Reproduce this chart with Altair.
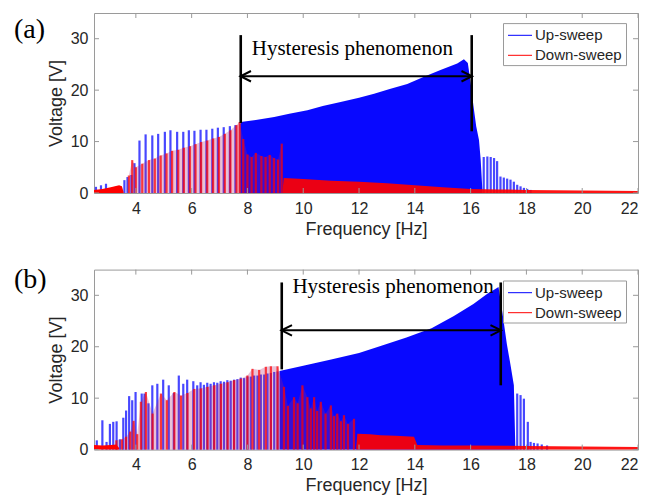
import altair as alt
import pandas as pd

# ---------------- shared values ----------------
X_TICKS = [4, 6, 8, 10, 12, 14, 16, 18, 20, 22]
Y_TICKS = [0, 10, 20, 30]
SWEEPS = ["Up-sweep", "Down-sweep"]
COLORS = ["#0000ff", "#ff0000"]
PANEL_LABELS = ["(a)", "(b)"]
ANNOT_TEXT = ["Hysteresis phenomenon"]

# ---------------- panel (a) ----------------
A_UP_SPIKE_F = [2.57, 2.75, 2.93, 3.15, 3.59, 3.70, 3.84, 3.95, 4.13, 4.35, 4.59, 4.80, 5.04,
                5.24, 5.48, 5.70, 5.90, 6.10, 6.32, 6.53, 6.74, 6.94, 7.15, 7.37, 7.57, 7.75,
                16.47, 16.60, 16.72, 16.84, 16.95, 17.07, 17.19, 17.31, 17.43, 17.55, 17.67,
                17.79, 17.91, 18.03, 18.15]
A_UP_SPIKE_V = [1.2, 1.5, 1.8, 0.8, 2.5, 3.1, 3.5, 5.8, 10.2, 11.4, 11.2, 11.5, 11.9,
                12.2, 11.9, 11.9, 12.2, 12.1, 12.3, 12.3, 12.5, 12.7, 12.8, 13.0, 13.2, 13.5,
                7.0, 7.1, 7.0, 6.8, 6.2, 3.2, 3.0, 2.8, 2.6, 2.2, 1.6,
                1.3, 1.0, 0.8, 0.6]
A_UP_ENV_F = [7.76, 8.3, 8.96, 9.5, 10.15, 10.7, 11.34, 12.0, 12.54, 13.1, 13.73, 14.33,
              14.92, 15.52, 15.76, 15.9, 16.0, 16.1, 16.2, 16.3, 16.36, 16.42]
A_UP_ENV_V = [13.8, 14.2, 14.8, 15.4, 16.1, 16.9, 17.7, 18.5, 19.3, 20.2, 21.2, 22.6,
              23.9, 25.2, 26.0, 25.3, 21.5, 17.0, 13.0, 10.3, 6.5, 0.8]
A_DOWN_SPIKE_F = [3.75, 3.87, 4.00, 4.23, 4.47, 4.68, 4.89, 5.10, 5.30, 5.52, 5.72, 5.94,
                  6.14, 6.34, 6.56, 6.77, 6.98, 7.19, 7.39, 7.61, 7.72, 7.85, 8.00, 8.15,
                  8.30, 8.50, 8.65, 8.80, 8.95, 9.10, 9.23]
A_DOWN_SPIKE_V = [3.4, 6.4, 5.0, 5.7, 6.4, 6.7, 7.3, 7.7, 8.2, 8.4, 8.8, 9.1,
                  9.5, 9.9, 10.2, 10.6, 10.9, 11.5, 12.2, 13.2, 13.8, 10.5, 7.5, 7.0,
                  7.8, 7.2, 7.0, 7.4, 6.8, 6.5, 9.6]
A_DOWN_LOW_F = [2.5, 2.8, 3.1, 3.4, 3.5, 3.56]
A_DOWN_LOW_V = [0.6, 0.8, 1.1, 1.5, 1.3, 0.2]
A_DOWN_ENV_F = [9.26, 9.30, 10, 11, 12, 13, 14, 15, 16, 17, 18, 20, 22]
A_DOWN_ENV_V = [0.5, 2.9, 2.7, 2.4, 2.2, 1.9, 1.5, 1.1, 0.8, 0.7, 0.6, 0.5, 0.4]
A_MARK_F = [7.76, 16.04]
A_MARK_LO = [13.6, 12.0]
A_MARK_HI = [30.7, 30.7]
A_ARROW_V = [22.7]
A_TEXT_F = [11.76]
A_TEXT_V = [26.8]

# ---------------- panel (b) ----------------
B_UP_SPIKE_F = [2.60, 2.80, 2.95, 3.07, 3.19, 3.31, 3.43, 3.55, 3.65, 3.76, 3.87, 3.99,
                4.21, 4.31, 4.45, 4.59, 4.77, 4.98, 5.18, 5.36, 5.54, 5.70, 5.84, 6.06,
                6.20, 6.32, 6.44, 6.56, 6.68, 6.80, 6.92, 7.04, 7.16, 7.28, 7.40, 7.52,
                7.64, 7.76, 7.88, 8.00, 8.12, 8.24, 8.36, 8.48, 8.60, 8.72, 8.84, 8.96,
                9.08, 17.67, 17.79, 17.91, 18.05, 18.15, 18.27, 18.40, 18.55, 18.74]
B_UP_SPIKE_V = [1.8, 5.7, 1.5, 5.0, 5.4, 5.5, 2.0, 6.2, 7.6, 10.4, 9.6, 11.2,
                10.9, 10.9, 9.0, 12.5, 12.8, 13.6, 12.5, 11.0, 14.4, 12.8, 13.6, 13.3,
                12.5, 13.1, 12.6, 13.0, 12.8, 13.1, 13.0, 13.3, 13.2, 13.5, 13.4, 13.6,
                13.7, 14.0, 13.9, 14.2, 14.2, 14.4, 14.4, 14.6, 14.6, 14.8, 14.9, 15.1,
                15.2, 10.9, 10.6, 9.9, 5.4, 1.5, 1.3, 1.2, 1.0, 0.8]
B_UP_ENV_F = [9.15, 10.0, 11.0, 12.0, 12.8, 13.7, 14.6, 15.4, 16.1, 16.6, 16.9, 17.0,
              17.13, 17.3, 17.42, 17.55, 17.6]
B_UP_ENV_V = [15.3, 16.3, 17.5, 18.8, 20.2, 21.8, 23.6, 26.0, 28.3, 30.3, 31.3, 31.6,
              27.0, 20.5, 16.8, 12.5, 1.0]
B_DOWN_SPIKE_F = [3.30, 3.50, 3.65, 3.80, 3.92, 4.05, 4.18, 4.36, 4.60, 4.90, 5.11, 5.38,
                  5.62, 5.85, 6.09, 6.33, 6.57, 6.81, 7.05, 7.29, 7.52, 7.76, 8.00, 8.18,
                  8.42, 8.66, 8.84, 9.08, 9.31, 9.45, 9.67, 9.80, 9.97, 10.15, 10.27, 10.39,
                  10.50, 10.63, 10.80, 10.99, 11.10, 11.22, 11.35, 11.46, 11.60, 11.82]
B_DOWN_SPIKE_V = [1.8, 2.0, 2.5, 3.5, 5.6, 3.0, 9.3, 11.2, 7.0, 10.9, 9.6, 11.2,
                  10.5, 11.0, 11.8, 11.9, 12.2, 12.5, 12.8, 13.1, 13.5, 13.8, 14.4, 15.7,
                  15.5, 16.1, 16.2, 16.2, 12.2, 8.5, 10.2, 9.0, 12.5, 10.2, 8.0, 10.2,
                  7.5, 9.3, 7.0, 8.6, 6.5, 7.0, 5.5, 6.7, 5.0, 6.0]
B_DOWN_LOW_F = [2.5, 2.8, 3.1, 3.3, 3.4]
B_DOWN_LOW_V = [0.9, 0.8, 0.9, 1.0, 0.3]
B_DOWN_ENV_F = [11.90, 11.94, 12.4, 12.77, 13.3, 13.97, 14.09, 15, 16, 18, 20, 22]
B_DOWN_ENV_V = [0.5, 3.1, 3.0, 2.8, 2.7, 2.5, 0.9, 0.8, 0.8, 0.7, 0.6, 0.5]
B_MARK_F = [9.23, 17.08]
B_MARK_LO = [15.6, 12.5]
B_MARK_HI = [32.5, 32.5]
B_ARROW_V = [23.2]
B_TEXT_F = [13.22]
B_TEXT_V = [30.4]

# ---------------- styling ----------------
W, H = 544, 180
TXT = "#262626"
BOX = "#9a9a9a"
SANS = "Liberation Sans"
SERIF = "Liberation Serif"

XS = alt.Scale(domain=[2.5, 22], nice=False, zero=False)
YS = alt.Scale(domain=[0, 35], nice=False, zero=False)
XAXIS = alt.Axis(values=X_TICKS, ticks=False, domain=False, grid=False,
                 labelFont=SANS, labelFontSize=16, labelColor=TXT, labelPadding=7,
                 titleFont=SANS, titleFontSize=18, titleColor=TXT,
                 titleFontWeight="normal", titlePadding=4)
YAXIS = alt.Axis(values=Y_TICKS, ticks=False, domain=False, grid=False,
                 labelFont=SANS, labelFontSize=16, labelColor=TXT, labelPadding=6,
                 titleFont=SANS, titleFontSize=18, titleColor=TXT,
                 titleFontWeight="normal", titlePadding=5)


def X(field):
    return alt.X(field, type="quantitative", scale=XS, axis=XAXIS, title="Frequency [Hz]")


def Y(field):
    return alt.Y(field, type="quantitative", scale=YS, axis=YAXIS, title="Voltage [V]")


def df(f, v):
    return pd.DataFrame({"f": f, "v": v})


def panel(idx, up_sf, up_sv, up_ef, up_ev, dn_sf, dn_sv, dn_lf, dn_lv, dn_ef, dn_ev,
          mark_f, mark_lo, mark_hi, arrow_v, text_f, text_v, legend_y, label_y):
    blue, red = COLORS
    layers = []
    # up-sweep
    layers.append(alt.Chart(df(up_sf, up_sv)).mark_rule(color=blue, strokeWidth=2.2, opacity=0.72)
                  .encode(x=X("f"), y=Y("v"), y2=alt.datum(0)))
    layers.append(alt.Chart(df(up_ef, up_ev)).mark_area(color=blue, opacity=0.97)
                  .encode(x=X("f"), y=Y("v")))
    # down-sweep
    layers.append(alt.Chart(df(dn_sf, dn_sv)).mark_area(color="#b02070", opacity=0.28)
                  .encode(x=X("f"), y=Y("v")))
    layers.append(alt.Chart(df(dn_sf, dn_sv)).mark_rule(color=red, strokeWidth=2.2, opacity=0.72)
                  .encode(x=X("f"), y=Y("v"), y2=alt.datum(0)))
    layers.append(alt.Chart(df(dn_lf, dn_lv)).mark_area(color=red, opacity=1)
                  .encode(x=X("f"), y=Y("v")))
    layers.append(alt.Chart(df(dn_ef, dn_ev)).mark_area(color=red, opacity=0.92)
                  .encode(x=X("f"), y=Y("v")))
    # annotation
    marks = pd.DataFrame({"f": mark_f, "lo": mark_lo, "hi": mark_hi})
    layers.append(alt.Chart(marks).mark_rule(color="black", strokeWidth=2.6)
                  .encode(x=X("f"), y=Y("lo"), y2="hi"))
    arrow = pd.DataFrame({"x1": [mark_f[0]], "x2": [mark_f[1]], "v": arrow_v})
    layers.append(alt.Chart(arrow).mark_rule(color="black", strokeWidth=2)
                  .encode(x=X("x1"), x2="x2", y=Y("v")))
    heads = pd.DataFrame({"f": mark_f, "v": arrow_v * 2})
    layers.append(alt.Chart(heads.iloc[[0]]).mark_point(shape="M1,-1L-1,0L1,1", filled=False,
                  stroke="black", strokeWidth=2, size=110, opacity=1, xOffset=5)
                  .encode(x=X("f"), y=Y("v")))
    layers.append(alt.Chart(heads.iloc[[1]]).mark_point(shape="M-1,-1L1,0L-1,1", filled=False,
                  stroke="black", strokeWidth=2, size=110, opacity=1, xOffset=-5)
                  .encode(x=X("f"), y=Y("v")))
    tdf = pd.DataFrame({"f": text_f, "v": text_v, "t": ANNOT_TEXT})
    layers.append(alt.Chart(tdf).mark_text(font=SERIF, fontSize=21, color="black",
                  align="center", baseline="alphabetic")
                  .encode(x=X("f"), y=Y("v"), text="t:N"))
    # box ticks (inward, MATLAB style)
    xt = pd.DataFrame({"t": X_TICKS})
    yt = pd.DataFrame({"t": Y_TICKS})
    layers.append(alt.Chart(xt).mark_rule(color=BOX, strokeWidth=1)
                  .encode(x=X("t"), y=alt.value(0), y2=alt.value(5)))
    layers.append(alt.Chart(xt).mark_rule(color=BOX, strokeWidth=1)
                  .encode(x=X("t"), y=alt.value(H - 5), y2=alt.value(H)))
    layers.append(alt.Chart(yt).mark_rule(color=BOX, strokeWidth=1)
                  .encode(y=Y("t"), x=alt.value(0), x2=alt.value(5)))
    layers.append(alt.Chart(yt).mark_rule(color=BOX, strokeWidth=1)
                  .encode(y=Y("t"), x=alt.value(W - 5), x2=alt.value(W)))
    # legend (drawn inside the axes, top right)
    LX, LW, LH = 409.5, 123, 42
    layers.append(alt.Chart(pd.DataFrame({"sweep": [SWEEPS[0]]})).mark_rect(
                  fill="white", stroke=BOX, strokeWidth=1)
                  .encode(x=alt.value(LX), x2=alt.value(LX + LW),
                          y=alt.value(legend_y), y2=alt.value(legend_y + LH)))
    sw = pd.DataFrame({"sweep": SWEEPS})
    for i, name in enumerate(SWEEPS):
        row = sw[sw["sweep"] == name]
        yy = legend_y + 11.7 + 20 * i
        layers.append(alt.Chart(row).mark_rule(color=COLORS[i], strokeWidth=1)
                      .encode(x=alt.value(LX + 4.5), x2=alt.value(LX + 28.5), y=alt.value(yy)))
        layers.append(alt.Chart(row).mark_text(font=SANS, fontSize=15, color=TXT,
                      align="left", baseline="middle")
                      .encode(x=alt.value(LX + 31.5), y=alt.value(yy), text="sweep:N"))
    # panel label
    layers.append(alt.Chart(pd.DataFrame({"p": [PANEL_LABELS[idx]]})).mark_text(
                  font=SERIF, fontSize=28, color="black", align="left", baseline="middle")
                  .encode(x=alt.value(-80), y=alt.value(label_y), text="p:N"))
    return alt.layer(*layers).properties(width=W, height=H)


pa = panel(0, A_UP_SPIKE_F, A_UP_SPIKE_V, A_UP_ENV_F, A_UP_ENV_V,
           A_DOWN_SPIKE_F, A_DOWN_SPIKE_V, A_DOWN_LOW_F, A_DOWN_LOW_V,
           A_DOWN_ENV_F, A_DOWN_ENV_V, A_MARK_F, A_MARK_LO, A_MARK_HI,
           A_ARROW_V, A_TEXT_F, A_TEXT_V, 10.6, 17.3)
pb = panel(1, B_UP_SPIKE_F, B_UP_SPIKE_V, B_UP_ENV_F, B_UP_ENV_V,
           B_DOWN_SPIKE_F, B_DOWN_SPIKE_V, B_DOWN_LOW_F, B_DOWN_LOW_V,
           B_DOWN_ENV_F, B_DOWN_ENV_V, B_MARK_F, B_MARK_LO, B_MARK_HI,
           B_ARROW_V, B_TEXT_F, B_TEXT_V, 11.4, 10.7)

chart = (alt.vconcat(pa, pb, spacing=76.6, bounds="flush")
         .properties(padding={"left": 13, "top": 12, "right": 5, "bottom": 5},
                     background="white")
         .configure_view(stroke=BOX, strokeWidth=1))

chart.save("out.html", embed_options={"renderer": "svg", "actions": False})
